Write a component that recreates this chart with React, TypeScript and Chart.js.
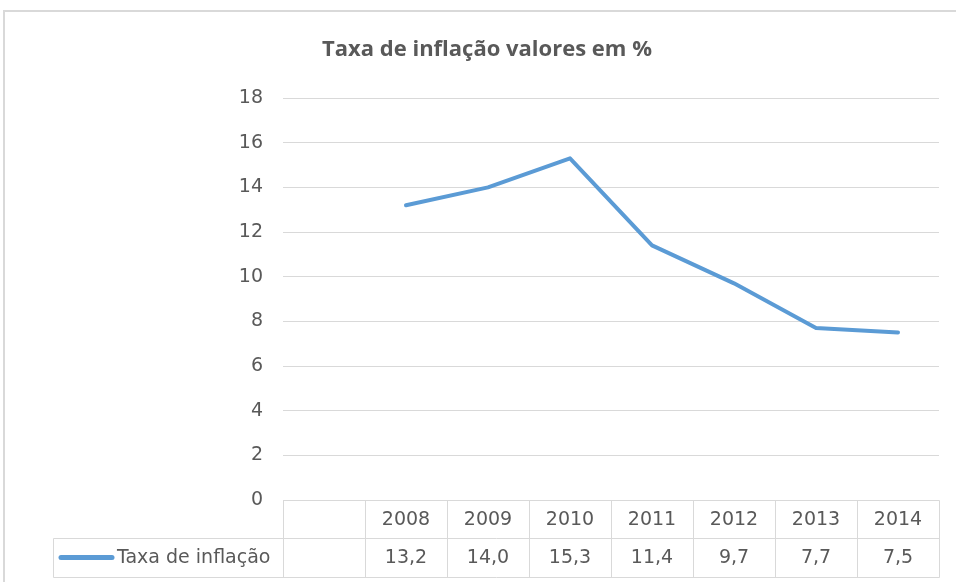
import React, { useEffect, useRef } from "react";
import { Chart, registerables } from "chart.js";

Chart.register(...registerables);

const TITLE = "Taxa de inflação valores em %";
const SERIES_NAME = "Taxa de inflação";
const CATEGORIES = ["", "2008", "2009", "2010", "2011", "2012", "2013", "2014"];
const VALUES: (number | null)[] = [null, 13.2, 14.0, 15.3, 11.4, 9.7, 7.7, 7.5];
const Y_MIN = 0;
const Y_MAX = 18;
const Y_STEP = 2;

const LINE_COLOR = "#5B9BD5";
const TEXT_COLOR = "#595959";
const GRID_COLOR = "#D9D9D9";
const FONT = "'DejaVu Sans', sans-serif";

const fmt = (v: number | null) => (v == null ? "" : v.toFixed(1).replace(".", ","));

const tablePlugin = {
  id: "excelTable",
  beforeDraw(chart: any) {
    const ctx = chart.ctx;
    ctx.save();
    ctx.fillStyle = "#ffffff";
    ctx.fillRect(0, 0, chart.width, chart.height);
    ctx.strokeStyle = GRID_COLOR;
    ctx.lineWidth = 2;
    ctx.beginPath();
    ctx.moveTo(4, chart.height);
    ctx.lineTo(4, 11);
    ctx.lineTo(chart.width, 11);
    ctx.stroke();
    // title
    ctx.fillStyle = TEXT_COLOR;
    ctx.font = "bold 22px 'Open Sans', sans-serif";
    ctx.textAlign = "center";
    ctx.textBaseline = "middle";
    ctx.fillText(TITLE, 487, 50);
    ctx.restore();
  },
  afterDraw(chart: any) {
    const ctx = chart.ctx;
    const area = chart.chartArea;
    const xs = chart.scales.x;
    const n = CATEGORIES.length;
    const w = xs.getPixelForValue(1) - xs.getPixelForValue(0);
    const bounds: number[] = [];
    for (let i = 0; i <= n; i++) bounds.push(xs.getPixelForValue(0) - w / 2 + i * w);
    const r0 = area.bottom;
    const r1 = r0 + 38;
    const r2 = r1 + 39;
    const legendLeft = 53;
    ctx.save();
    ctx.strokeStyle = GRID_COLOR;
    ctx.lineWidth = 1;
    const line = (x1: number, y1: number, x2: number, y2: number) => {
      ctx.beginPath();
      ctx.moveTo(Math.round(x1) + 0.5, Math.round(y1) + 0.5);
      ctx.lineTo(Math.round(x2) + 0.5, Math.round(y2) + 0.5);
      ctx.stroke();
    };
    line(bounds[0], r0, bounds[n], r0);
    line(legendLeft, r1, bounds[n], r1);
    line(legendLeft, r2, bounds[n], r2);
    line(legendLeft, r1, legendLeft, r2);
    for (let i = 0; i <= n; i++) line(bounds[i], r0, bounds[i], r2);

    ctx.fillStyle = TEXT_COLOR;
    ctx.font = "19px " + FONT;
    ctx.textAlign = "center";
    ctx.textBaseline = "middle";
    for (let i = 0; i < n; i++) {
      const cx = xs.getPixelForValue(i);
      ctx.fillText(CATEGORIES[i], cx, (r0 + r1) / 2 + 1);
      ctx.fillText(fmt(VALUES[i]), cx, (r1 + r2) / 2 + 1);
    }
    // legend key
    const ly = (r1 + r2) / 2;
    ctx.strokeStyle = LINE_COLOR;
    ctx.lineWidth = 5;
    ctx.lineCap = "round";
    ctx.beginPath();
    ctx.moveTo(61, ly);
    ctx.lineTo(112, ly);
    ctx.stroke();
    ctx.font = "19px " + FONT;
    ctx.textAlign = "left";
    ctx.fillText(SERIES_NAME, 117, ly + 1);
    ctx.restore();
  },
};

export default function App() {
  const ref = useRef<HTMLCanvasElement | null>(null);
  useEffect(() => {
    if (!ref.current) return;
    const chart = new Chart(ref.current, {
      type: "line",
      data: {
        labels: CATEGORIES,
        datasets: [
          {
            label: SERIES_NAME,
            data: VALUES,
            borderColor: LINE_COLOR,
            backgroundColor: LINE_COLOR,
            borderWidth: 4,
            pointRadius: 0,
            tension: 0,
            borderCapStyle: "round",
            borderJoinStyle: "round",
          },
        ],
      },
      options: {
        responsive: false,
        animation: false,
        layout: { padding: { top: 98, left: 0, right: 17, bottom: 0 } },
        plugins: { legend: { display: false }, title: { display: false }, tooltip: { enabled: false } },
        scales: {
          x: {
            type: "category",
            offset: true,
            grid: { display: false },
            border: { display: false },
            ticks: { display: false },
            afterFit: (s: any) => {
              s.height = 82;
            },
          },
          y: {
            min: Y_MIN,
            max: Y_MAX,
            ticks: {
              stepSize: Y_STEP,
              color: TEXT_COLOR,
              padding: 20,
              font: { family: FONT, size: 19 },
            },
            grid: { color: GRID_COLOR, drawTicks: false, lineWidth: 1 },
            border: { display: false },
            afterFit: (s: any) => {
              s.width = 283;
            },
          },
        },
      },
      plugins: [tablePlugin],
    });
    return () => chart.destroy();
  }, []);
  return (
    <div style={{ position: "absolute", left: 0, top: 0, width: 956, height: 582 }}>
      <canvas ref={ref} width={956} height={582} style={{ display: "block" }} />
    </div>
  );
}
